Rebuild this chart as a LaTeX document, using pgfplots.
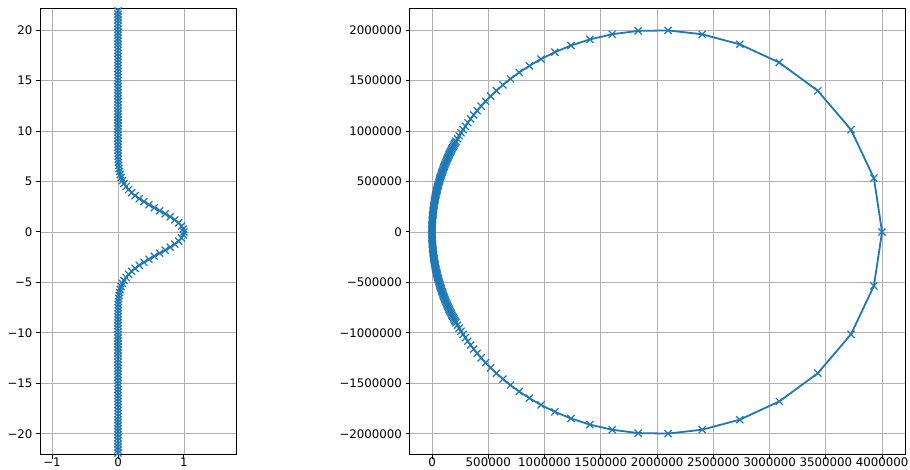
\documentclass[border=0pt]{standalone}
\usepackage{fontspec}
\setmainfont{DejaVu Sans}
\usepackage{pgfplots}
\pgfplotsset{compat=1.18}
\definecolor{mplblue}{HTML}{1F77B4}
\definecolor{gridgray}{HTML}{B0B0B0}
\pgfplotsset{
  mpl/.style={
    scale only axis,
    axis line style={line width=1pt},
    tick align=outside, tick pos=left,
    major tick length=4pt,
    every tick/.style={black, line width=1pt},
    grid=major,
    major grid style={gridgray, line width=0.96pt},
    ticklabel style={font=\fontsize{11.8}{14}\selectfont},
    xticklabel style={inner sep=1pt, yshift=2pt},
  },
  curve/.style={mplblue, line width=1.8pt, mark=x, mark size=5pt,
    mark options={line width=1.2pt, solid}},
}
\begin{document}
\begin{tikzpicture}
\useasboundingbox (0,0) rectangle (910pt,470pt);

% left panel
\begin{axis}[mpl,
  at={(40pt,15pt)}, anchor=south west,
  width=196pt, height=446pt,
  xmin=-1.182, xmax=1.788, ymin=-22.1, ymax=22.1,
  xtick={-1,0,1}, xticklabels={−1,0,1},
  ytick={-20,-15,-10,-5,0,5,10,15,20},
  yticklabels={−20,−15,−10,−5,0,5,10,15,20},
]
\addplot[curve] coordinates {
(0,-22.5) (0,-22.2) (0,-21.9) (0,-21.6) (0,-21.3) (0,-21.0) (0,-20.7) (0,-20.4)
(0,-20.1) (0,-19.8) (0,-19.5) (0,-19.2) (0,-18.9) (0,-18.6) (0,-18.3) (0,-18.0)
(0,-17.7) (0,-17.4) (0,-17.1) (0,-16.8) (0,-16.5) (0,-16.2) (0,-15.9) (0,-15.6)
(0,-15.3) (0,-15.0) (0,-14.7) (0,-14.4) (0,-14.1) (0,-13.8) (0,-13.5) (0,-13.2)
(0,-12.9) (0,-12.6) (0,-12.3) (0,-12.0) (0,-11.7) (0,-11.4) (0,-11.1) (0,-10.8)
(0,-10.5) (0,-10.2) (0,-9.9) (0,-9.6) (0,-9.3)
(0.0002,-9.0) (0.0004,-8.7) (0.0006,-8.4) (0.0011,-8.1) (0.0018,-7.8)
(0.0029,-7.5) (0.0045,-7.2) (0.0071,-6.9) (0.0108,-6.6) (0.0161,-6.3)
(0.0236,-6.0) (0.0340,-5.7) (0.0481,-5.4) (0.0667,-5.1) (0.0909,-4.8)
(0.1216,-4.5) (0.1595,-4.2) (0.2054,-3.9) (0.2596,-3.6) (0.3220,-3.3)
(0.3920,-3.0) (0.4683,-2.7) (0.5492,-2.4) (0.6320,-2.1) (0.7138,-1.8)
(0.7913,-1.5) (0.8608,-1.2) (0.9192,-0.9) (0.9632,-0.6) (0.9907,-0.3)
(1.0,0)
(0.9907,0.3) (0.9632,0.6) (0.9192,0.9) (0.8608,1.2) (0.7913,1.5)
(0.7138,1.8) (0.6320,2.1) (0.5492,2.4) (0.4683,2.7) (0.3920,3.0)
(0.3220,3.3) (0.2596,3.6) (0.2054,3.9) (0.1595,4.2) (0.1216,4.5)
(0.0909,4.8) (0.0667,5.1) (0.0481,5.4) (0.0340,5.7) (0.0236,6.0)
(0.0161,6.3) (0.0108,6.6) (0.0071,6.9) (0.0045,7.2) (0.0029,7.5)
(0.0018,7.8) (0.0011,8.1) (0.0006,8.4) (0.0004,8.7) (0.0002,9.0)
(0,9.3) (0,9.6) (0,9.9) (0,10.2) (0,10.5) (0,10.8) (0,11.1) (0,11.4)
(0,11.7) (0,12.0) (0,12.3) (0,12.6) (0,12.9) (0,13.2) (0,13.5) (0,13.8)
(0,14.1) (0,14.4) (0,14.7) (0,15.0) (0,15.3) (0,15.6) (0,15.9) (0,16.2)
(0,16.5) (0,16.8) (0,17.1) (0,17.4) (0,17.7) (0,18.0) (0,18.3) (0,18.6)
(0,18.9) (0,19.2) (0,19.5) (0,19.8) (0,20.1) (0,20.4) (0,20.7) (0,21.0)
(0,21.3) (0,21.6) (0,21.9) (0,22.2) (0,22.5)
};
\end{axis}

% right panel
\begin{axis}[mpl,
  at={(409.5pt,15pt)}, anchor=south west,
  width=495.5pt, height=446pt,
  xmin=-200000, xmax=4204000, ymin=-2210000, ymax=2210000,
  xtick={0,500000,1000000,1500000,2000000,2500000,3000000,3500000,4000000},
  xticklabels={0,500000,1000000,1500000,2000000,2500000,3000000,3500000,4000000},
  ytick={-2000000,-1500000,-1000000,-500000,0,500000,1000000,1500000,2000000},
  yticklabels={−2000000,−1500000,−1000000,−500000,0,500000,1000000,1500000,2000000},
]
\addplot[curve] table {
x y
39 -12500
156 -25000
352 -37500
625 -50000
977 -62500
1407 -75000
1915 -87500
2502 -100000
3167 -112500
3910 -125000
4732 -137500
5633 -150000
6612 -162500
7671 -175000
8809 -187500
10025 -200000
11321 -212500
12697 -225000
14152 -237500
15687 -250000
17301 -262500
18997 -275000
20772 -287500
22628 -300000
24565 -312500
26583 -325000
28682 -337500
30863 -350000
33126 -362500
35471 -375000
37898 -387500
40408 -400000
43001 -412500
45678 -425000
48438 -437500
51282 -450000
54211 -462500
57225 -475000
60324 -487500
63508 -500000
66779 -512500
70136 -525000
73580 -537500
77112 -550000
80731 -562500
84439 -575000
88236 -587500
92122 -600000
96097 -612500
100164 -625000
104322 -637500
108571 -650000
112914 -662500
117349 -675000
121877 -687500
126501 -700000
131219 -712500
136033 -725000
140943 -737500
145951 -750000
151056 -762500
156260 -775000
161565 -787500
166970 -800000
172476 -812500
178087 -825000
183795 -837500
189613 -850000
195534 -862500
201563 -875000
207700 -887500
213943 -900000
226675 -924834
241617 -952937
258050 -982654
276174 -1014110
296224 -1047450
318471 -1082800
343238 -1120330
370918 -1160230
401927 -1202570
436838 -1247610
476281 -1295480
521032 -1346350
572025 -1400320
630387 -1457450
697476 -1517710
774953 -1580900
864824 -1646620
969504 -1714090
1091880 -1781950
1235320 -1848040
1403700 -1909030
1601170 -1959830
1831720 -1992910
2098300 -1997580
2401170 -1959350
2735230 -1859960
3086570 -1679100
3429170 -1399100
3724450 -1013050
3927360 -534121
4000000 0
3927360 534121
3724450 1013050
3429170 1399100
3086570 1679100
2735230 1859960
2401170 1959350
2098300 1997580
1831720 1992910
1601170 1959830
1403700 1909030
1235320 1848040
1091880 1781950
969504 1714090
864824 1646620
774953 1580900
697476 1517710
630387 1457450
572025 1400320
521032 1346350
476281 1295480
436838 1247610
401927 1202570
370918 1160230
343238 1120330
318471 1082800
296224 1047450
276174 1014110
258050 982654
241617 952937
226675 924834
213943 900000
207700 887500
201563 875000
195534 862500
189613 850000
183795 837500
178087 825000
172476 812500
166970 800000
161565 787500
156260 775000
151056 762500
145951 750000
140943 737500
136033 725000
131219 712500
126501 700000
121877 687500
117349 675000
112914 662500
108571 650000
104322 637500
100164 625000
96097 612500
92122 600000
88236 587500
84439 575000
80731 562500
77112 550000
73580 537500
70136 525000
66779 512500
63508 500000
60324 487500
57225 475000
54211 462500
51282 450000
48438 437500
45678 425000
43001 412500
40408 400000
37898 387500
35471 375000
33126 362500
30863 350000
28682 337500
26583 325000
24565 312500
22628 300000
20772 287500
18997 275000
17301 262500
15687 250000
14152 237500
12697 225000
11321 212500
10025 200000
8809 187500
7671 175000
6612 162500
5633 150000
4732 137500
3910 125000
3167 112500
2502 100000
1915 87500
1407 75000
977 62500
625 50000
352 37500
156 25000
39 12500
};
\end{axis}
\end{tikzpicture}
\end{document}
